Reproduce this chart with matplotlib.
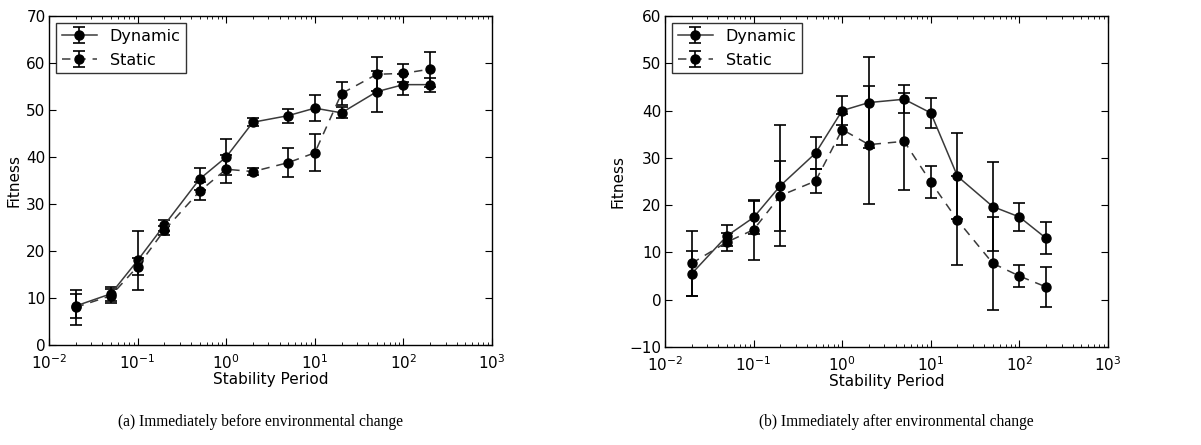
import numpy as np
import matplotlib.pyplot as plt

# stability periods (shared by both panels)
periods = [0.02, 0.05, 0.1, 0.2, 0.5, 1, 2, 5, 10, 20, 50, 100, 200]

# (a) immediately before environmental change
before_dyn = [8.3, 10.9, 18.0, 25.5, 35.3, 40.0, 47.4, 48.8, 50.4, 49.4, 53.9, 55.4, 55.4]
before_dyn_err = [2.5, 1.5, 6.3, 1.2, 2.3, 3.9, 0.8, 1.5, 2.8, 1.2, 4.3, 2.2, 1.5]
before_sta = [8.0, 10.5, 16.7, 24.4, 32.7, 37.4, 36.9, 38.8, 40.9, 53.5, 57.6, 57.8, 58.7]
before_sta_err = [3.8, 1.5, 1.8, 1.0, 1.9, 3.0, 0.7, 3.1, 3.9, 2.5, 3.6, 1.9, 3.7]

# (b) immediately after environmental change
after_dyn = [5.5, 13.5, 17.4, 24.1, 31.0, 40.0, 41.7, 42.4, 39.5, 26.1, 19.7, 17.5, 13.0]
after_dyn_err = [4.7, 2.2, 3.4, 12.8, 3.4, 3.0, 9.6, 3.0, 3.1, 9.1, 9.4, 2.9, 3.4]
after_sta = [7.7, 12.2, 14.8, 22.0, 25.1, 36.0, 32.8, 33.5, 24.9, 16.8, 7.7, 5.0, 2.7]
after_sta_err = [6.9, 2.0, 6.3, 7.4, 2.6, 3.3, 12.5, 10.3, 3.3, 9.4, 9.8, 2.4, 4.2]

captions = ["(a) Immediately before environmental change",
            "(b) Immediately after environmental change"]

plt.rcParams['font.family'] = 'DejaVu Sans'

fig = plt.figure(figsize=(12.01, 4.45), dpi=100)
ax1 = fig.add_axes([0.0408, 0.2247, 0.3689, 0.7393])
ax2 = fig.add_axes([0.5537, 0.2202, 0.3689, 0.7438])


def draw_panel(ax, dyn, dyn_err, sta, sta_err, ylim, yticks):
    kw = dict(ecolor='black', mfc='black', mec='black', marker='o', ms=6.5,
              capsize=4, elinewidth=1.2, capthick=1.2)
    ax.errorbar(periods, dyn, yerr=dyn_err, color='#3a3a3a', ls='-', lw=1.1,
                label='Dynamic', **kw)
    ax.errorbar(periods, sta, yerr=sta_err, color='#3a3a3a', ls='--', lw=1.1,
                dashes=(5.5, 4.5), label='Static', **kw)
    ax.set_xscale('log')
    ax.set_xlim(1e-2, 1e3)
    ax.set_ylim(*ylim)
    ax.set_yticks(yticks)
    ax.tick_params(which='both', direction='in', top=True, right=True,
                   labelsize=11)
    ax.tick_params(which='major', length=5)
    ax.tick_params(which='minor', length=2.5)
    ax.tick_params(axis='y', pad=2.5)
    ax.tick_params(axis='x', pad=6)
    ax.set_xlabel('Stability Period', fontsize=11, labelpad=0)
    ax.set_ylabel('Fitness', fontsize=11, labelpad=3)
    for s in ax.spines.values():
        s.set_linewidth(1.0)
    leg = ax.legend(loc='upper left', fontsize=11.5, fancybox=False,
                    handlelength=2.2, borderaxespad=0.45, handletextpad=0.8,
                    labelspacing=0.55, borderpad=0.35)
    leg.get_frame().set_edgecolor('black')
    leg.get_frame().set_linewidth(1.0)


draw_panel(ax1, before_dyn, before_dyn_err, before_sta, before_sta_err,
           (0, 70), range(0, 71, 10))
draw_panel(ax2, after_dyn, after_dyn_err, after_sta, after_sta_err,
           (-10, 60), range(-10, 61, 10))

fig.text(0.2165, 0.052, captions[0], ha='center', va='center',
         family='Liberation Serif', fontsize=11.2)
fig.text(0.746, 0.052, captions[1], ha='center', va='center',
         family='Liberation Serif', fontsize=11.2)

fig.savefig('out.png', dpi=100)
